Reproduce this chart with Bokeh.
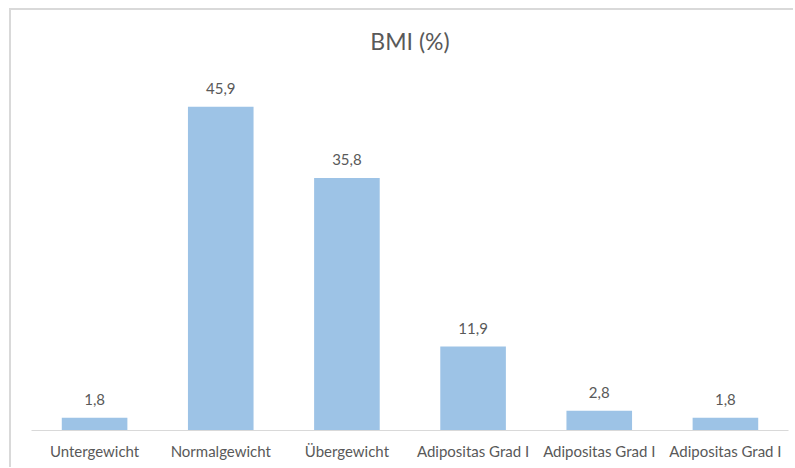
from bokeh.plotting import figure
from bokeh.models import ColumnDataSource, FixedTicker, Range1d
from bokeh.core.properties import value
from bokeh.embed import file_html
from bokeh.resources import INLINE

# BMI distribution (%)
categories = ["Untergewicht", "Normalgewicht", "Übergewicht",
              "Adipositas Grad I", "Adipositas Grad I", "Adipositas Grad I"]
shares = [1.8, 45.9, 35.8, 11.9, 2.8, 1.8]

positions = list(range(len(categories)))
labels = [f"{v:.1f}".replace(".", ",") for v in shares]

source = ColumnDataSource(data=dict(x=positions, top=shares, label=labels))

FONT = "Lato"
TEXT = "#595959"

p = figure(width=784, height=459, output_backend="svg", toolbar_location=None,
           x_range=Range1d(-0.5, len(categories) - 0.5), y_range=Range1d(0, 52.3),
           min_border_left=20, min_border_right=7, min_border_bottom=39,
           min_border_top=51, title="BMI (%)",
           margin=(8, 0, 0, 9),
           styles={"border-top": "2px solid #D9D9D9",
                   "border-left": "2px solid #D9D9D9"})

p.title.align = "center"
p.title.text_font = FONT
p.title.text_font_size = "23px"
p.title.text_font_style = "normal"
p.title.text_color = TEXT
p.title.standoff = 13

p.vbar(x="x", top="top", width=0.52, source=source,
       fill_color="#9DC3E6", line_color=None)

p.text(x="x", y="top", text="label", source=source,
       text_font=value(FONT), text_font_size="15px", text_color=TEXT,
       text_align="center", text_baseline="bottom", y_offset=-13)

# category axis
p.xaxis.ticker = FixedTicker(ticks=positions)
p.xaxis.major_label_overrides = {i: c for i, c in enumerate(categories)}
p.xaxis.major_label_text_font = FONT
p.xaxis.major_label_text_font_size = "15px"
p.xaxis.major_label_text_color = TEXT
p.xaxis.major_tick_line_color = None
p.xaxis.minor_tick_line_color = None
p.xaxis.axis_line_color = "#D9D9D9"
p.xaxis.major_label_standoff = 5

p.yaxis.visible = False
p.grid.visible = False
p.outline_line_color = None

open("out.html", "w").write(file_html(p, INLINE))
